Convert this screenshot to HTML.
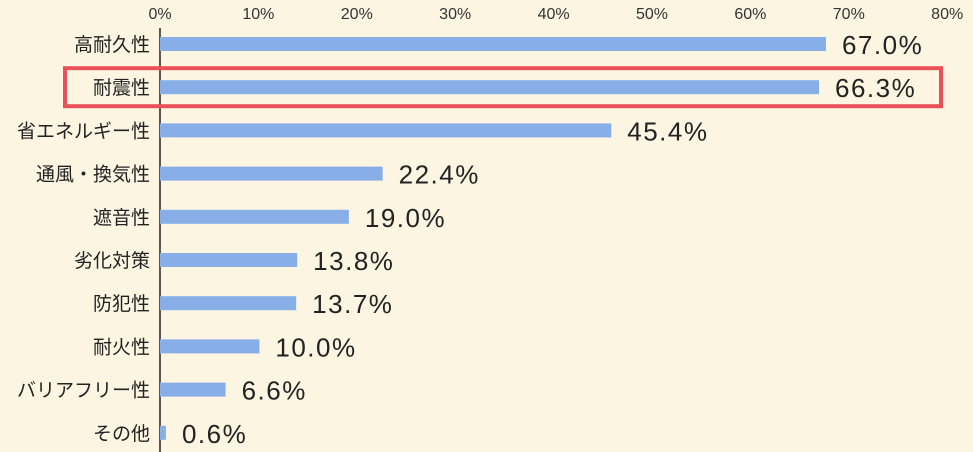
<!DOCTYPE html>
<html><head><meta charset="utf-8"><style>
html,body{margin:0;padding:0;background:#fbf5e2;}
svg{display:block;font-family:"Liberation Sans","Noto Sans CJK JP",sans-serif;}
</style></head><body>
<svg id="chart" width="973" height="452">
<rect width="973" height="452" fill="#fbf5e2"/>
</svg>
<script>
const categories=["高耐久性","耐震性","省エネルギー性","通風・換気性","遮音性","劣化対策","防犯性","耐火性","バリアフリー性","その他"];
const values=[67.0,66.3,45.4,22.4,19.0,13.8,13.7,10.0,6.6,0.6];
const ticks=[0,10,20,30,40,50,60,70,80];
const highlight=1;
const NS="http://www.w3.org/2000/svg";
const svg=document.getElementById('chart');
const x=v=>160+v*9.94;
const tx=v=>160+v*9.84;
const y=i=>44+i*43.2;
function mk(t,a){const e=document.createElementNS(NS,t);for(const k in a)e.setAttribute(k,a[k]);svg.appendChild(e);return e;}
ticks.forEach(t=>{const e=mk('text',{x:tx(t),y:19,'text-anchor':'middle','font-size':16,fill:'#333'});


e.textContent=t+'%';});
const ax=mk('line',{x1:160,y1:28,x2:160,y2:452,stroke:'#222','stroke-width':1.5});


categories.forEach((c,i)=>{
const l=mk('text',{x:150,y:y(i)+7,'text-anchor':'end','font-size':19,fill:'#222'});


l.textContent=c;
const b=mk('rect',{x:160,y:y(i)-7,width:x(values[i])-160,height:14,fill:'#88aee8'});


const v=mk('text',{x:x(values[i])+16,y:y(i)+10,'font-size':26,'letter-spacing':1.5,fill:'#222'});


v.textContent=values[i].toFixed(1)+'%';
});
const hb=mk('rect',{x:65,y:y(highlight)-19,width:876,height:38,fill:'none',stroke:'#e8505a','stroke-width':4});


</script>
</body></html>
